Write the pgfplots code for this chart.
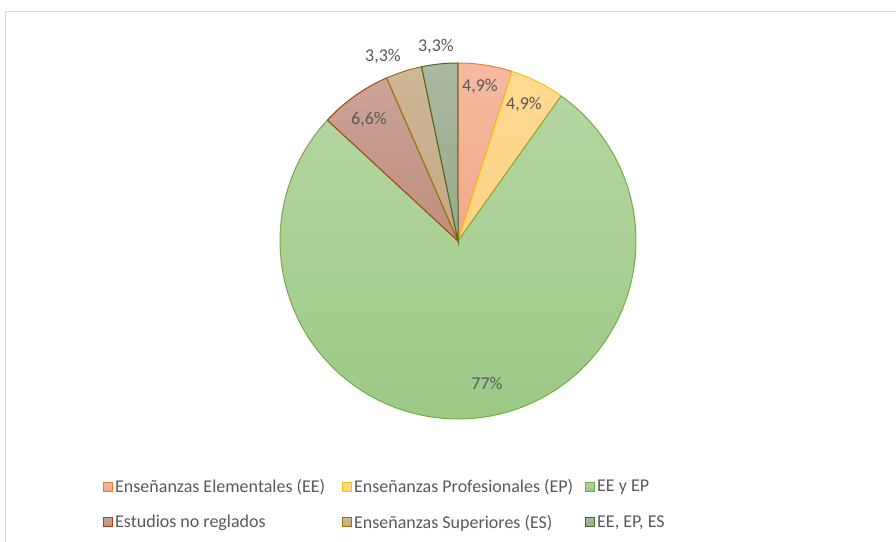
\documentclass[border=0pt]{standalone}
\usepackage{pgfplots}
\pgfplotsset{compat=1.18}
\usepackage{fontspec}
\setmainfont{Carlito}

\definecolor{txt}{HTML}{595959}
\definecolor{frame}{HTML}{D9D9D9}
% edges and gradient ends, one set per category
\definecolor{eeD}{HTML}{ED7D31}\definecolor{eeT}{HTML}{F5BBA0}\definecolor{eeB}{HTML}{F1A88A}
\definecolor{epD}{HTML}{FFC000}\definecolor{epT}{HTML}{FFDB91}\definecolor{epB}{HTML}{FDD288}
\definecolor{bothD}{HTML}{70AD47}\definecolor{bothT}{HTML}{B5D6A2}\definecolor{bothB}{HTML}{9EC987}
\definecolor{nrD}{HTML}{9E480E}\definecolor{nrT}{HTML}{CCA399}\definecolor{nrB}{HTML}{BE8E7E}
\definecolor{esD}{HTML}{997300}\definecolor{esT}{HTML}{CFB898}\definecolor{esB}{HTML}{C3A883}
\definecolor{allD}{HTML}{43682B}\definecolor{allT}{HTML}{AAB8A0}\definecolor{allB}{HTML}{97AA8C}

% counts per category (of 61): 3, 3, 47, 4, 2, 2
\newcommand{\slice}[3]{%
  \addplot[draw=#3D, top color=#3T, bottom color=#3B, line width=1pt,
      domain={90-#2*360/61}:{90-#1*360/61}, samples=90, variable=\t]
    ({458+178*cos(\t)}, {300+178*sin(\t)}) -- (458,300) -- cycle;}

\begin{document}
\begin{tikzpicture}
\begin{axis}[
    width=896pt, height=541pt, scale only axis,
    xmin=0, xmax=896, ymin=0, ymax=541,
    hide axis,
    legend columns=3,
    legend cell align=left,
    legend image code/.code={\draw[#1, line width=1pt] (0pt,-4.5pt) rectangle (9pt,4.5pt);},
    legend style={draw=none, fill=none, at={(axis cs:103,64)}, anchor=north west,
        inner sep=0pt, row sep=17pt,
        font=\fontsize{18}{21.5}\selectfont, text=txt,
        /tikz/column 2/.style={column sep=15pt},
        /tikz/column 4/.style={column sep=10pt}},
]
\draw[frame, line width=1pt] (5,-20) rectangle (920,529);

\slice{0}{3}{ee}
\slice{3}{6}{ep}
\slice{6}{53}{both}
\slice{53}{57}{nr}
\slice{57}{59}{es}
\slice{59}{61}{all}

\legend{Enseñanzas Elementales (EE), Enseñanzas Profesionales (EP), EE y EP,
    Estudios no reglados, Enseñanzas Superiores (ES), {EE, EP, ES}}

\begin{scope}[every node/.style={text=txt, font=\fontsize{18}{21.5}\selectfont}]
\node at (480,454) {4,9\%};
\node at (524,436) {4,9\%};
\node at (487,158) {77\%};
\node at (369,421) {6,6\%};
\node at (383,484) {3,3\%};
\node at (436,494) {3,3\%};
\end{scope}
\end{axis}
\pgfresetboundingbox
\useasboundingbox (current axis.south west) rectangle (current axis.north east);
\end{tikzpicture}
\end{document}
